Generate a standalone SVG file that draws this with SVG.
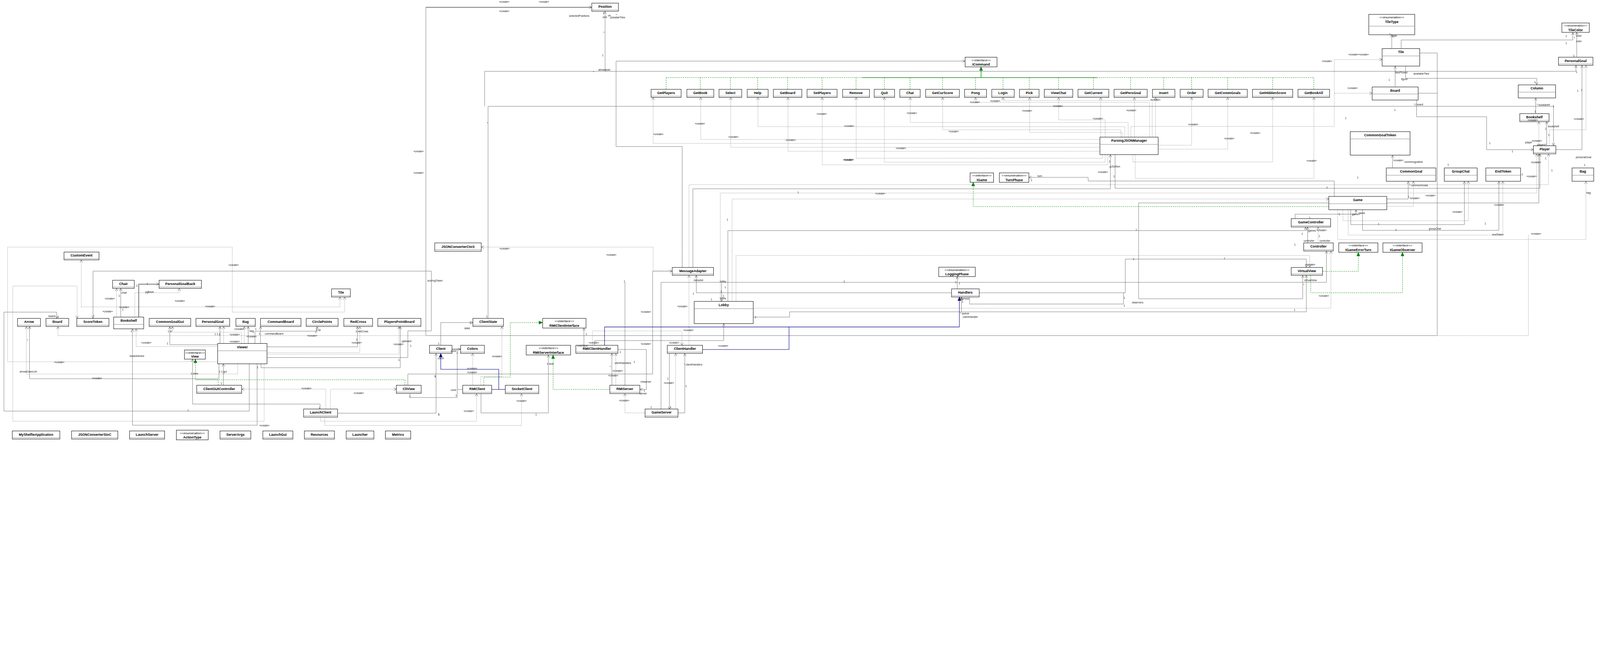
<svg xmlns="http://www.w3.org/2000/svg" width="6124" height="1685" viewBox="0 0 6124 1685" style="max-width:100%;height:auto;display:block">
<style>
#nodes rect{fill:#fff;stroke:#000;stroke-width:1.5}
#nodes line{stroke:#888;stroke-width:1.5}
text.n{font-family:'Liberation Sans',Arial,sans-serif;font-weight:bold;font-size:13px;text-anchor:middle;fill:#000}
text.st{font-family:'Liberation Sans',Arial,sans-serif;font-style:italic;font-size:12px;text-anchor:middle;fill:#000}
.a{fill:none;stroke:#666;stroke-width:1.3}
.a2{fill:none;stroke:#777;stroke-width:3}
.d{fill:none;stroke:#777;stroke-width:1.3;stroke-dasharray:3 3}
.r{fill:none;stroke:#009000;stroke-width:1.3;stroke-dasharray:5 3}
.r2{fill:none;stroke:#008000;stroke-width:2}
.g{fill:none;stroke:#000080;stroke-width:1.6}
#labels text{font-family:'Liberation Sans',Arial,sans-serif;font-size:10px;fill:#222;text-anchor:middle}
</style>
<defs>
<marker id="oa" markerUnits="userSpaceOnUse" markerWidth="12" markerHeight="12" viewBox="0 0 12 12" refX="11" refY="6" orient="auto"><path d="M1,1 L11,6 L1,11" fill="none" stroke="#555" stroke-width="1.3"/></marker>
<marker id="gt" markerUnits="userSpaceOnUse" markerWidth="16" markerHeight="14" viewBox="0 0 16 14" refX="15" refY="7" orient="auto"><path d="M1,1 L15,7 L1,13 Z" fill="#008000" stroke="#008000"/></marker>
<marker id="nt" markerUnits="userSpaceOnUse" markerWidth="16" markerHeight="14" viewBox="0 0 16 14" refX="15" refY="7" orient="auto"><path d="M1,1 L15,7 L1,13 Z" fill="#000080" stroke="#000080"/></marker>
</defs>
<rect x="0" y="0" width="6124" height="1685" fill="#fff"/>

<g id="connectors">
<g marker-end="url(#oa)">
<path class="a" d="M838,1393 V1450 H113 V1250"/>
<path class="a" d="M954,1393 V1574 H15 V1195 H217 V1219"/>
<path class="a" d="M1022,1369 H1561 V1267 H1651 V1038 H356 V1219"/>
<path class="a" d="M462,1214 V1104"/>
<path class="a2" d="M531,1214 V1088 H609"/>
<path class="a" d="M984,1393 V1628 H507 V1259"/>
<path class="a" d="M833,1320 H650 V1250"/>
<path class="a" d="M842,1315 V1250"/>
<path class="a" d="M950,1315 V1250"/>
<path class="a" d="M997,1315 V1250"/>
<path class="a" d="M976,1315 V1268 H1214 V1250"/>
<path class="a" d="M1022,1328 H1368 V1250"/>
<path class="a" d="M999,1393 V1408 H1532 V1250"/>
<path class="a" d="M1225,1566 V1547 H737 V1375"/>
<path class="a" d="M855,1475 V1393"/>
<path class="a" d="M1292,1582 H1669 V1353"/>
<path class="a" d="M1687,1322 V1235 H1810"/>
<path class="a2" d="M1730,1337 H1763"/>
<path class="a" d="M1841,1507 V1581 H2099 V1359"/>
<path class="a" d="M2235,1322 V1256"/>
<path class="a" d="M2342,1475 V1353"/>
<path class="a" d="M2365,1338 H2474 V1491 H2449"/>
<path class="a" d="M2595,1581 H2621 V1353"/>
<path class="a" d="M2562,1353 V1567"/>
<path class="a" d="M2530,1567 V1081 H5077 V961"/>
<path class="a" d="M2762,1081 V1154"/>
<path class="a" d="M3642,1121 H2665 V1054"/>
<path class="a" d="M3748,1121 H4307 V992 H5000 V1024"/>
<path class="a" d="M3664,1106 V1059"/>
<path class="a" d="M2883,1214 H3022 V1194 H5000 V1054"/>
<path class="a" d="M3680,1194 V1137"/>
<path class="a" d="M2786,1154 V883 H4997 V869"/>
<path class="a" d="M2276,1322 V1304 H2770 V1239"/>
<path class="a2" d="M1630,28 H2265"/>
<path class="a" d="M2316,273 V43"/>
<path class="a" d="M1855,407 V273 H6032 V250"/>
<path class="a" d="M1868,1219 V407 H5946 V558"/>
<path class="a" d="M2611,1024 V561 H2358 V234 H3694"/>
<path class="a" d="M2652,1024 V723 H4250 V592"/>
<path class="a" d="M4268,592 V721 H5894 V589"/>
<path class="a" d="M1561,1475 V1432 H2498 V1038 H2573"/>
<path class="a" d="M5327,186 V133"/>
<path class="a" d="M5363,186 V153 H6020 V124"/>
<path class="a" d="M6035,219 V124"/>
<path class="a" d="M5340,333 V253"/>
<path class="a" d="M5380,253 V300 H5882 V325"/>
<path class="a" d="M5878,435 V375"/>
<path class="a" d="M5920,558 V466"/>
<path class="a" d="M5955,573 H6055 V250"/>
<path class="a" d="M5422,383 V447 H5690 V573 H5869"/>
<path class="a" d="M5308,762 H5390 V694"/>
<path class="a" d="M5170,803 V860 H5605 V694"/>
<path class="a" d="M5215,803 V882 H5737 V694"/>
<path class="a" d="M4957,837 V820 H5190 V803"/>
<path class="a" d="M5005,930 V869"/>
<path class="a" d="M5308,777 H5890 V589"/>
<path class="a" d="M5086,777 H4358 V1144 H4986 V1054"/>
<path class="a" d="M5107,752 V693 H4165 V679 H3938"/>
<path class="a" d="M5330,643 V594"/>
</g>
<path class="a" d="M1569,1506 V1522 H1750 V1337"/>
<path class="a" d="M1771,1491 H1750"/>
<path class="a" d="M2392,1475 V1081"/>
<path class="a" d="M3711,1137 V1164 H4300 V1121"/>
<path class="a" d="M5501,1285 H1630 V28"/>
<path class="a" d="M5434,203 H5501 V1285"/>
<path class="a" d="M5428,357 H5501"/>

<g marker-end="url(#oa)">
<path class="d" d="M910,1393 V1432 H101 V1250"/>
<path class="d" d="M1626,1285 H222 V1250"/>
<path class="d" d="M833,1385 H29 V946 H889 V1195 H1319 V1137"/>
<path class="d" d="M311,1175 V995"/>
<path class="d" d="M311,1175 H1301 V1137"/>
<path class="d" d="M1011,1393 V1613 H49 V1095 H295 V1219"/>
<path class="d" d="M446,1214 V1104"/>
<path class="d" d="M516,1214 V1121 H686 V1104"/>
<path class="d" d="M833,1327 H521 V1259"/>
<path class="d" d="M925,1315 V1272 H660 V1250"/>
<path class="d" d="M935,1315 V1250"/>
<path class="d" d="M1022,1350 H1377 V1250"/>
<path class="d" d="M1022,1356 H1527 V1250"/>
<path class="d" d="M856,1315 V1250"/>
<path class="d" d="M1247,1566 V1490 H925"/>
<path class="d" d="M1265,1566 V1490 H1517"/>
<path class="d" d="M1227,1597 V1613 H1824 V1507"/>
<path class="d" d="M1243,1597 V1629 H1996 V1507"/>
<path class="d" d="M1809,1475 V1353"/>
<path class="d" d="M1840,1475 V1442 H1921 V1250"/>
<path class="d" d="M2357,1475 V1353"/>
<path class="d" d="M2469,1581 H2392 V1507"/>
<path class="d" d="M2586,1567 V1353"/>
<path class="d" d="M2637,1322 V1054"/>
<path class="d" d="M2268,1322 V1267 H2610 V1322"/>
<path class="d" d="M2573,1038 H2500 V946 H1842"/>
<path class="d" d="M2802,1154 V762 H5086"/>
<path class="d" d="M2757,1154 V739 H5882 V589"/>
<path class="d" d="M2637,1024 V707 H5927 V589"/>
<path class="d" d="M2817,1154 V978 H5013 V1024"/>
<path class="d" d="M2883,1180 H5094 V961"/>
<path class="d" d="M4328,525 V484 H5107 V228 H5290"/>
<path class="d" d="M5107,357 H5252"/>
<path class="d" d="M5120,803 V917 H6070 V694"/>
<path class="d" d="M5308,790 H5410 V694"/>
<path class="d" d="M5140,803 V845 H5620 V694"/>
<path class="d" d="M5160,803 V900 H5752 V694"/>
<path class="d" d="M5045,930 V869"/>
<path class="d" d="M5930,558 V497 H6070 V250"/>
<path class="d" d="M5890,558 V466"/>
<path class="d" d="M4210,549 H2500 V373"/>
<path class="d" d="M4210,534 H2682 V373"/>
<path class="d" d="M4210,564 H2797 V373"/>
<path class="d" d="M4305,525 V485 H2901 V373"/>
<path class="d" d="M4210,579 H3016 V373"/>
<path class="d" d="M4240,592 V631 H3147 V373"/>
<path class="d" d="M4220,592 V606 H3277 V373"/>
<path class="d" d="M4230,592 V621 H3385 V373"/>
<path class="d" d="M4318,525 V469 H3484 V373"/>
<path class="d" d="M4290,525 V497 H3608 V373"/>
<path class="d" d="M4400,525 V392 H3734 V373"/>
<path class="d" d="M4410,525 V385 H3839 V373"/>
<path class="d" d="M4295,525 V507 H3941 V373"/>
<path class="d" d="M4230,525 V459 H4052 V373"/>
<path class="d" d="M4213,525 V373"/>
<path class="d" d="M4342,525 V373"/>
<path class="d" d="M4423,525 V373"/>
<path class="d" d="M4433,556 H4561 V373"/>
<path class="d" d="M4433,571 H4699 V373"/>
<path class="d" d="M4336,592 V620 H4871 V373"/>
<path class="d" d="M4345,592 V683 H5029 V373"/>
</g>
<path class="d" d="M5850,900 V1285 H5502"/>

<path class="r" d="M2549.5,297 H5028.5"/>
<path class="r" d="M2549.5,342 V297 M2680.5,342 V297 M2795.5,342 V297 M2900,342 V297 M3014.5,342 V297 M3146.5,342 V297 M3276.5,342 V297 M3385,342 V297 M3483,342 V297 M3607.5,342 V297 M3734,342 V297 M3839,342 V297 M3939.5,342 V297 M4051.5,342 V297 M4185,342 V297 M4327.5,342 V297 M4454,342 V297 M4561,342 V297 M4699,342 V297 M4871,342 V297 M5028.5,342 V297"/>
<path class="r2" d="M3300,297 H4200"/>
<g marker-end="url(#gt)">
<path class="r2" d="M3755,297 V256"/>
<path class="r" d="M835,1475 V1454 H748 V1375"/>
<path class="r" d="M1852,1475 V1444 H1953 V1235 H2077"/>
<path class="r" d="M2334,1491 H2117 V1359"/>
<path class="r" d="M5086,791 H3725 V698"/>
<path class="r" d="M5062,1039 H5199 V966"/>
<path class="r" d="M5017,1054 V1121 H5368 V966"/>
</g>
<path class="r" d="M1550,1475 V1454 H748"/>
<g marker-end="url(#nt)">
<path class="g" d="M1882,1491 H1909 V1414 H1687 V1353"/>
<path class="g" d="M2314,1322 V1252 H3672 V1137"/>
</g>
<path class="g" d="M1934,1491 H1909"/>
<path class="g" d="M2689,1338 H3020 V1252"/>
</g>

<g id="nodes">
<g id="n-CustomEvent"><rect x="245" y="965" width="134" height="30"/><line x1="245" y1="990" x2="379" y2="990"/><text class="n" x="312" y="983">CustomEvent</text></g>
<g id="n-Chair"><rect x="431" y="1073" width="83" height="31"/><line x1="431" y1="1099" x2="514" y2="1099"/><text class="n" x="472.5" y="1091">Chair</text></g>
<g id="n-PersonalGoalBack"><rect x="609" y="1073" width="162" height="31"/><line x1="609" y1="1099" x2="771" y2="1099"/><text class="n" x="690" y="1091">PersonalGoalBack</text></g>
<g id="n-TileGui"><rect x="1269" y="1106" width="72" height="31"/><line x1="1269" y1="1132" x2="1341" y2="1132"/><text class="n" x="1305" y="1124">Tile</text></g>
<g id="n-Arrow"><rect x="67" y="1219" width="88" height="31"/><line x1="67" y1="1245" x2="155" y2="1245"/><text class="n" x="111" y="1237">Arrow</text></g>
<g id="n-BoardGui"><rect x="176" y="1219" width="87" height="31"/><line x1="176" y1="1245" x2="263" y2="1245"/><text class="n" x="219.5" y="1237">Board</text></g>
<g id="n-ScoreToken"><rect x="294" y="1219" width="123" height="31"/><line x1="294" y1="1245" x2="417" y2="1245"/><text class="n" x="355.5" y="1237">ScoreToken</text></g>
<g id="n-BookshelfGui"><rect x="435" y="1214" width="115" height="45"/><line x1="435" y1="1242" x2="550" y2="1242"/><text class="n" x="492.5" y="1232">Bookshelf</text></g>
<g id="n-CommonGoalGui"><rect x="571" y="1219" width="159" height="31"/><line x1="571" y1="1245" x2="730" y2="1245"/><text class="n" x="650.5" y="1237">CommonGoalGui</text></g>
<g id="n-PersonalGoalGui"><rect x="750" y="1219" width="129" height="31"/><line x1="750" y1="1245" x2="879" y2="1245"/><text class="n" x="814.5" y="1237">PersonalGoal</text></g>
<g id="n-BagGui"><rect x="903" y="1219" width="74" height="31"/><line x1="903" y1="1245" x2="977" y2="1245"/><text class="n" x="940" y="1237">Bag</text></g>
<g id="n-CommandBoard"><rect x="997" y="1219" width="155" height="31"/><line x1="997" y1="1245" x2="1152" y2="1245"/><text class="n" x="1074.5" y="1237">CommandBoard</text></g>
<g id="n-CirclePoints"><rect x="1172" y="1219" width="122" height="31"/><line x1="1172" y1="1245" x2="1294" y2="1245"/><text class="n" x="1233" y="1237">CirclePoints</text></g>
<g id="n-RedCross"><rect x="1316" y="1219" width="110" height="31"/><line x1="1316" y1="1245" x2="1426" y2="1245"/><text class="n" x="1371" y="1237">RedCross</text></g>
<g id="n-PlayersPointBoard"><rect x="1446" y="1219" width="165" height="31"/><line x1="1446" y1="1245" x2="1611" y2="1245"/><text class="n" x="1528.5" y="1237">PlayersPointBoard</text></g>
<g id="n-Viewer"><rect x="833" y="1315" width="189" height="78"/><line x1="833" y1="1343" x2="1022" y2="1343"/><text class="n" x="927.5" y="1333">Viewer</text></g>
<g id="n-View"><rect x="706" y="1340" width="80" height="35"/><text class="st" x="746" y="1354">&lt;&lt;interface&gt;&gt;</text><text class="n" x="746" y="1370">View</text></g>
<g id="n-ClientGUIController"><rect x="753" y="1475" width="172" height="31"/><line x1="753" y1="1501" x2="925" y2="1501"/><text class="n" x="839" y="1493">ClientGUIController</text></g>
<g id="n-CliView"><rect x="1517" y="1475" width="95" height="31"/><line x1="1517" y1="1501" x2="1612" y2="1501"/><text class="n" x="1564.5" y="1493">CliView</text></g>
<g id="n-LaunchClient"><rect x="1162" y="1566" width="130" height="31"/><line x1="1162" y1="1592" x2="1292" y2="1592"/><text class="n" x="1227" y="1584">LaunchClient</text></g>
<g id="n-MyShelfieApplication"><rect x="47" y="1650" width="182" height="31"/><line x1="47" y1="1676" x2="229" y2="1676"/><text class="n" x="138" y="1668">MyShelfieApplication</text></g>
<g id="n-JSONConverterStoC"><rect x="274" y="1650" width="177" height="31"/><line x1="274" y1="1676" x2="451" y2="1676"/><text class="n" x="362.5" y="1668">JSONConverterStoC</text></g>
<g id="n-LaunchServer"><rect x="496" y="1650" width="134" height="31"/><line x1="496" y1="1676" x2="630" y2="1676"/><text class="n" x="563" y="1668">LaunchServer</text></g>
<g id="n-ActionType"><rect x="675" y="1647" width="122" height="37"/><text class="st" x="736" y="1662">&lt;&lt;enumeration&gt;&gt;</text><text class="n" x="736" y="1679">ActionType</text></g>
<g id="n-ServerArgs"><rect x="842" y="1650" width="118" height="31"/><line x1="842" y1="1676" x2="960" y2="1676"/><text class="n" x="901" y="1668">ServerArgs</text></g>
<g id="n-LaunchGui"><rect x="1006" y="1650" width="115" height="31"/><line x1="1006" y1="1676" x2="1121" y2="1676"/><text class="n" x="1063.5" y="1668">LaunchGui</text></g>
<g id="n-Resources"><rect x="1165" y="1650" width="115" height="31"/><line x1="1165" y1="1676" x2="1280" y2="1676"/><text class="n" x="1222.5" y="1668">Resources</text></g>
<g id="n-Launcher"><rect x="1325" y="1650" width="106" height="31"/><line x1="1325" y1="1676" x2="1431" y2="1676"/><text class="n" x="1378" y="1668">Launcher</text></g>
<g id="n-Metrics"><rect x="1475" y="1650" width="97" height="31"/><line x1="1475" y1="1676" x2="1572" y2="1676"/><text class="n" x="1523.5" y="1668">Metrics</text></g>

<g id="n-JSONConverterCtoS"><rect x="1664" y="930" width="178" height="32"/><line x1="1664" y1="956" x2="1842" y2="956"/><text class="n" x="1753" y="949">JSONConverterCtoS</text></g>
<g id="n-Position"><rect x="2265" y="12" width="102" height="31"/><line x1="2265" y1="38" x2="2367" y2="38"/><text class="n" x="2316" y="30">Position</text></g>
<g id="n-ClientState"><rect x="1810" y="1219" width="117" height="31"/><line x1="1810" y1="1245" x2="1927" y2="1245"/><text class="n" x="1868.5" y="1237">ClientState</text></g>
<g id="n-RMIClientInterface"><rect x="2077" y="1219" width="166" height="37"/><text class="st" x="2160" y="1234">&lt;&lt;interface&gt;&gt;</text><text class="n" x="2160" y="1251">RMIClientInterface</text></g>
<g id="n-Client"><rect x="1644" y="1322" width="86" height="31"/><line x1="1644" y1="1348" x2="1730" y2="1348"/><text class="n" x="1687" y="1340">Client</text></g>
<g id="n-Colors"><rect x="1763" y="1322" width="91" height="31"/><line x1="1763" y1="1348" x2="1854" y2="1348"/><text class="n" x="1808.5" y="1340">Colors</text></g>
<g id="n-RMIServerInterface"><rect x="2014" y="1322" width="170" height="37"/><text class="st" x="2099" y="1337">&lt;&lt;interface&gt;&gt;</text><text class="n" x="2099" y="1354">RMIServerInterface</text></g>
<g id="n-RMIClientHandler"><rect x="2204" y="1322" width="161" height="31"/><line x1="2204" y1="1348" x2="2365" y2="1348"/><text class="n" x="2284.5" y="1340">RMIClientHandler</text></g>
<g id="n-ClientHandler"><rect x="2554" y="1322" width="135" height="31"/><line x1="2554" y1="1348" x2="2689" y2="1348"/><text class="n" x="2621.5" y="1340">ClientHandler</text></g>
<g id="n-RMIClient"><rect x="1771" y="1475" width="111" height="32"/><line x1="1771" y1="1502" x2="1882" y2="1502"/><text class="n" x="1826.5" y="1494">RMIClient</text></g>
<g id="n-SocketClient"><rect x="1934" y="1475" width="128" height="32"/><line x1="1934" y1="1502" x2="2062" y2="1502"/><text class="n" x="1998" y="1494">SocketClient</text></g>
<g id="n-RMIServer"><rect x="2334" y="1475" width="115" height="32"/><line x1="2334" y1="1502" x2="2449" y2="1502"/><text class="n" x="2391.5" y="1494">RMIServer</text></g>
<g id="n-GameServer"><rect x="2469" y="1566" width="126" height="31"/><line x1="2469" y1="1592" x2="2595" y2="1592"/><text class="n" x="2532" y="1584">GameServer</text></g>
<g id="n-MessageAdapter"><rect x="2573" y="1024" width="158" height="30"/><line x1="2573" y1="1049" x2="2731" y2="1049"/><text class="n" x="2652" y="1042">MessageAdapter</text></g>
<g id="n-Lobby"><rect x="2657" y="1154" width="226" height="85"/><line x1="2657" y1="1182" x2="2883" y2="1182"/><text class="n" x="2770" y="1172">Lobby</text></g>

<g id="n-IGame"><rect x="3713" y="662" width="90" height="36"/><text class="st" x="3758" y="676">&lt;&lt;interface&gt;&gt;</text><text class="n" x="3758" y="693">IGame</text></g>
<g id="n-TurnPhase"><rect x="3825" y="662" width="113" height="36"/><text class="st" x="3881.5" y="676">&lt;&lt;enumeration&gt;&gt;</text><text class="n" x="3881.5" y="693">TurnPhase</text></g>
<g id="n-LoggingPhase"><rect x="3593" y="1023" width="140" height="36"/><text class="st" x="3663" y="1037">&lt;&lt;enumeration&gt;&gt;</text><text class="n" x="3663" y="1054">LoggingPhase</text></g>
<g id="n-Handlers"><rect x="3642" y="1106" width="106" height="31"/><line x1="3642" y1="1132" x2="3748" y2="1132"/><text class="n" x="3695" y="1124">Handlers</text></g>
<g id="n-ICommand"><rect x="3694" y="219" width="122" height="37"/><text class="st" x="3755" y="234">&lt;&lt;interface&gt;&gt;</text><text class="n" x="3755" y="251">ICommand</text></g>

<g id="n-GetPlayers"><rect x="2492" y="342" width="115" height="31"/><line x1="2492" y1="368" x2="2607" y2="368"/><text class="n" x="2549.5" y="360">GetPlayers</text></g>
<g id="n-GetBook"><rect x="2629" y="342" width="103" height="31"/><line x1="2629" y1="368" x2="2732" y2="368"/><text class="n" x="2680.5" y="360">GetBook</text></g>
<g id="n-Select"><rect x="2752" y="342" width="87" height="31"/><line x1="2752" y1="368" x2="2839" y2="368"/><text class="n" x="2795.5" y="360">Select</text></g>
<g id="n-Help"><rect x="2860" y="342" width="80" height="31"/><line x1="2860" y1="368" x2="2940" y2="368"/><text class="n" x="2900" y="360">Help</text></g>
<g id="n-GetBoard"><rect x="2960" y="342" width="109" height="31"/><line x1="2960" y1="368" x2="3069" y2="368"/><text class="n" x="3014.5" y="360">GetBoard</text></g>
<g id="n-SetPlayers"><rect x="3089" y="342" width="115" height="31"/><line x1="3089" y1="368" x2="3204" y2="368"/><text class="n" x="3146.5" y="360">SetPlayers</text></g>
<g id="n-Remove"><rect x="3225" y="342" width="103" height="31"/><line x1="3225" y1="368" x2="3328" y2="368"/><text class="n" x="3276.5" y="360">Remove</text></g>
<g id="n-Quit"><rect x="3346" y="342" width="78" height="31"/><line x1="3346" y1="368" x2="3424" y2="368"/><text class="n" x="3385" y="360">Quit</text></g>
<g id="n-Chat"><rect x="3444" y="342" width="78" height="31"/><line x1="3444" y1="368" x2="3522" y2="368"/><text class="n" x="3483" y="360">Chat</text></g>
<g id="n-GetCurScore"><rect x="3543" y="342" width="129" height="31"/><line x1="3543" y1="368" x2="3672" y2="368"/><text class="n" x="3607.5" y="360">GetCurScore</text></g>
<g id="n-Pong"><rect x="3692" y="342" width="84" height="31"/><line x1="3692" y1="368" x2="3776" y2="368"/><text class="n" x="3734" y="360">Pong</text></g>
<g id="n-Login"><rect x="3796" y="342" width="86" height="31"/><line x1="3796" y1="368" x2="3882" y2="368"/><text class="n" x="3839" y="360">Login</text></g>
<g id="n-Pick"><rect x="3902" y="342" width="75" height="31"/><line x1="3902" y1="368" x2="3977" y2="368"/><text class="n" x="3939.5" y="360">Pick</text></g>
<g id="n-ViewChat"><rect x="3997" y="342" width="109" height="31"/><line x1="3997" y1="368" x2="4106" y2="368"/><text class="n" x="4051.5" y="360">ViewChat</text></g>
<g id="n-GetCurrent"><rect x="4126" y="342" width="118" height="31"/><line x1="4126" y1="368" x2="4244" y2="368"/><text class="n" x="4185" y="360">GetCurrent</text></g>
<g id="n-GetPersGoal"><rect x="4264" y="342" width="127" height="31"/><line x1="4264" y1="368" x2="4391" y2="368"/><text class="n" x="4327.5" y="360">GetPersGoal</text></g>
<g id="n-Insert"><rect x="4411" y="342" width="86" height="31"/><line x1="4411" y1="368" x2="4497" y2="368"/><text class="n" x="4454" y="360">Insert</text></g>
<g id="n-Order"><rect x="4517" y="342" width="88" height="31"/><line x1="4517" y1="368" x2="4605" y2="368"/><text class="n" x="4561" y="360">Order</text></g>
<g id="n-GetCommGoals"><rect x="4624" y="342" width="150" height="31"/><line x1="4624" y1="368" x2="4774" y2="368"/><text class="n" x="4699" y="360">GetCommGoals</text></g>
<g id="n-GetHiddenScore"><rect x="4794" y="342" width="154" height="31"/><line x1="4794" y1="368" x2="4948" y2="368"/><text class="n" x="4871" y="360">GetHiddenScore</text></g>
<g id="n-GetBookAll"><rect x="4968" y="342" width="121" height="31"/><line x1="4968" y1="368" x2="5089" y2="368"/><text class="n" x="5028.5" y="360">GetBookAll</text></g>
<g id="n-ParsingJSONManager"><rect x="4210" y="525" width="223" height="67"/><line x1="4210" y1="553" x2="4433" y2="553"/><text class="n" x="4321.5" y="543">ParsingJSONManager</text></g>

<g id="n-TileType"><rect x="5239" y="55" width="176" height="78"/><line x1="5239" y1="100" x2="5415" y2="100"/><text class="st" x="5327" y="70">&lt;&lt;enumeration&gt;&gt;</text><text class="n" x="5327" y="88">TileType</text></g>
<g id="n-TileColor"><rect x="5978" y="88" width="105" height="36"/><text class="st" x="6030.5" y="102" style="font-size:11px">&lt;&lt;enumeration&gt;&gt;</text><text class="n" x="6030.5" y="119">TileColor</text></g>
<g id="n-Tile"><rect x="5290" y="186" width="144" height="67"/><line x1="5290" y1="214" x2="5434" y2="214"/><text class="n" x="5362" y="204">Tile</text></g>
<g id="n-PersonalGoal"><rect x="5965" y="219" width="132" height="31"/><line x1="5965" y1="245" x2="6097" y2="245"/><text class="n" x="6031" y="237">PersonalGoal</text></g>
<g id="n-Board"><rect x="5252" y="333" width="176" height="50"/><line x1="5252" y1="360" x2="5428" y2="360"/><text class="n" x="5340" y="351">Board</text></g>
<g id="n-Column"><rect x="5811" y="325" width="143" height="50"/><line x1="5811" y1="353" x2="5954" y2="353"/><text class="n" x="5882.5" y="343">Column</text></g>
<g id="n-Bookshelf"><rect x="5817" y="435" width="112" height="31"/><line x1="5817" y1="461" x2="5929" y2="461"/><text class="n" x="5873" y="453">Bookshelf</text></g>
<g id="n-CommonGoalToken"><rect x="5168" y="504" width="229" height="90"/><line x1="5168" y1="532" x2="5397" y2="532"/><text class="n" x="5282.5" y="522">CommonGoalToken</text></g>
<g id="n-Player"><rect x="5869" y="558" width="86" height="31"/><line x1="5869" y1="584" x2="5955" y2="584"/><text class="n" x="5912" y="576">Player</text></g>
<g id="n-CommonGoal"><rect x="5306" y="643" width="190" height="51"/><line x1="5306" y1="671" x2="5496" y2="671"/><text class="n" x="5401" y="661">CommonGoal</text></g>
<g id="n-GroupChat"><rect x="5528" y="643" width="126" height="51"/><line x1="5528" y1="671" x2="5654" y2="671"/><text class="n" x="5591" y="661">GroupChat</text></g>
<g id="n-EndToken"><rect x="5687" y="643" width="133" height="51"/><line x1="5687" y1="671" x2="5820" y2="671"/><text class="n" x="5753.5" y="661">EndToken</text></g>
<g id="n-Bag"><rect x="6017" y="643" width="83" height="51"/><line x1="6017" y1="671" x2="6100" y2="671"/><text class="n" x="6058.5" y="661">Bag</text></g>
<g id="n-Game"><rect x="5086" y="752" width="222" height="51"/><line x1="5086" y1="780" x2="5308" y2="780"/><text class="n" x="5197" y="770">Game</text></g>
<g id="n-GameController"><rect x="4942" y="837" width="151" height="32"/><line x1="4942" y1="864" x2="5093" y2="864"/><text class="n" x="5017.5" y="855">GameController</text></g>
<g id="n-Controller"><rect x="4990" y="930" width="113" height="31"/><line x1="4990" y1="956" x2="5103" y2="956"/><text class="n" x="5046.5" y="948">Controller</text></g>
<g id="n-IGameErrorTurn"><rect x="5124" y="930" width="150" height="36"/><text class="st" x="5199" y="944">&lt;&lt;interface&gt;&gt;</text><text class="n" x="5199" y="961">IGameErrorTurn</text></g>
<g id="n-IGameObserver"><rect x="5293" y="930" width="150" height="36"/><text class="st" x="5368" y="944">&lt;&lt;interface&gt;&gt;</text><text class="n" x="5368" y="961">IGameObserver</text></g>
<g id="n-VirtualView"><rect x="4942" y="1024" width="120" height="30"/><line x1="4942" y1="1049" x2="5062" y2="1049"/><text class="n" x="5002" y="1042">VirtualView</text></g>
</g>

<g id="labels">
<text x="1665" y="1078">scoringToken</text>
<text x="564" y="1090">1</text><text x="524" y="1097">1</text>
<text x="572" y="1121">pgBack</text>
<text x="475" y="1125">chair</text><text x="456" y="1136">1</text>
<text x="420" y="1147">«create»</text>
<text x="688" y="1155">«create»</text>
<text x="804" y="1176">«create»</text>
<text x="475" y="1180">«create»</text><text x="470" y="1189">1</text>
<text x="412" y="1196">«create»</text>
<text x="198" y="1214">board</text><text x="223" y="1217">1</text>
<text x="358" y="1213">*</text>
<text x="650" y="1272">1 cf</text>
<text x="916" y="1264">«create»</text>
<text x="979" y="1263">1</text><text x="963" y="1271">bag</text>
<text x="832" y="1283">1 1 p</text>
<text x="898" y="1284">«create»</text>
<text x="963" y="1292">«create»</text>
<text x="1049" y="1282">commandBoard</text><text x="993" y="1282">1</text>
<text x="1218" y="1267">1 cp</text><text x="1209" y="1275">1</text>
<text x="1385" y="1272">1 redCross</text>
<text x="1195" y="1289">«create»</text>
<text x="560" y="1316">«create»</text>
<text x="641" y="1318">1</text>
<text x="898" y="1311">«create»</text>
<text x="1365" y="1304">1</text><text x="1365" y="1315">«create»</text>
<text x="1556" y="1310">ppboard</text><text x="1525" y="1322">«create»</text><text x="1572" y="1328">1</text>
<text x="1679" y="1318">1</text>
<text x="105" y="1307">*</text>
<text x="524" y="1366">bookshelves</text><text x="502" y="1275">*</text>
<text x="1527" y="1382">1</text>
<text x="227" y="1390">«create»</text>
<text x="108" y="1427">arrowDownList</text>
<text x="744" y="1434">1 view</text>
<text x="853" y="1427">1 1 gui</text>
<text x="371" y="1452">«create»</text>
<text x="847" y="1471">1</text>
<text x="1665" y="1444">1</text>
<text x="1173" y="1491">«create»</text>
<text x="1373" y="1509">«create»</text>
<text x="1569" y="1522">1</text>
<text x="986" y="1410">1</text>
<text x="720" y="1574">1</text>
<text x="1223" y="1565">1</text>
<text x="1679" y="1590">1</text>
<text x="1012" y="1632">«create»</text>

<text x="2390" y="1081">1</text>
<text x="2673" y="1077">messAd</text>
<text x="2767" y="1081">lobby</text>
<text x="2776" y="1104">1</text><text x="2761" y="1120">1</text><text x="2654" y="1128">1</text>
<text x="2769" y="1136">1</text><text x="2767" y="1146">lobby</text><text x="2723" y="1150">1</text>
<text x="2612" y="1177">«create»</text>
<text x="2472" y="1198">«create»</text>
<text x="1863" y="1216">1</text>
<text x="1800" y="1239">1</text>
<text x="1788" y="1260">state</text>
<text x="2892" y="1218">1</text>
<text x="2635" y="1268">«create»</text>
<text x="2244" y="1283">1</text>
<text x="2472" y="1320">«create»</text>
<text x="2229" y="1327">rmiClient</text>
<text x="2273" y="1316">«create»</text>
<text x="2580" y="1316">«create»</text>
<text x="2768" y="1328">«create»</text>
<text x="1736" y="1347">color</text><text x="1750" y="1355">1</text>
<text x="2374" y="1352">1</text>
<text x="1902" y="1368">«create»</text>
<text x="1687" y="1375">client</text>
<text x="2384" y="1393">clientHandlers</text><text x="2428" y="1389">1</text>
<text x="2106" y="1396">1 stub</text>
<text x="2653" y="1400">* clientHandlers</text>
<text x="2336" y="1408">*</text>
<text x="2364" y="1423">«create»</text>
<text x="1807" y="1415">«create»</text><text x="1807" y="1429">«create»</text>
<text x="2347" y="1441">«create»</text>
<text x="1666" y="1444">1</text>
<text x="2556" y="1453">1</text>
<text x="2560" y="1469">«create»</text>
<text x="2472" y="1465">rmiserver</text>
<text x="2626" y="1482">1</text>
<text x="1736" y="1497">color</text>
<text x="2466" y="1499">1</text><text x="2462" y="1510">server</text>
<text x="1746" y="1517">1</text>
<text x="1996" y="1539">«create»</text>
<text x="2389" y="1537">«create»</text>
<text x="2492" y="1562">1</text><text x="2567" y="1562">1</text>
<text x="1794" y="1578">«create»</text>
<text x="1680" y="1591">1</text><text x="2052" y="1591">1</text>

<text x="1930" y="11">«create»</text>
<text x="2082" y="11">«create»</text>
<text x="1930" y="46">«create»</text>
<text x="2217" y="64">selectedPositions</text>
<text x="2310" y="54">1</text><text x="2315" y="69">pos</text><text x="2332" y="63">os</text><text x="2364" y="71">pickableTiles</text><text x="2359" y="62">*</text>
<text x="2311" y="129">*</text>
<text x="2307" y="215">1</text>
<text x="2313" y="270">alreadysel</text><text x="2271" y="280">*</text>
<text x="1602" y="583">«create»</text>
<text x="1602" y="665">«create»</text>
<text x="894" y="1018">«create»</text>
<text x="1931" y="955">«create»</text>
<text x="2340" y="979">«create»</text>
<text x="1866" y="476">*</text>

<text x="3731" y="395">«create»</text>
<text x="3809" y="390">«create»</text>
<text x="4049" y="409">«create»</text>
<text x="3931" y="427">«create»</text>
<text x="3145" y="440">«create»</text>
<text x="3490" y="437">«create»</text>
<text x="2679" y="477">«create»</text>
<text x="3250" y="486">«create»</text>
<text x="3650" y="507">«create»</text>
<text x="2520" y="517">«create»</text>
<text x="2807" y="528">«create»</text>
<text x="3026" y="540">«create»</text>
<text x="3448" y="571">«create»</text>
<text x="3247" y="616">«create»</text>
<text x="4422" y="385">«create»</text>
<text x="4330" y="426">«create»</text>
<text x="4202" y="458">«create»</text>
<text x="4567" y="480">«create»</text>
<text x="4804" y="513">«create»</text>
<text x="4705" y="534">«create»</text>
<text x="4267" y="642">pJSONm</text><text x="4247" y="622">1</text>
<text x="4221" y="662">«create»</text>

<text x="5320" y="134">1</text><text x="5337" y="141">type</text>
<text x="5995" y="142">1</text><text x="6043" y="141">color</text><text x="6026" y="150">*</text><text x="6043" y="161">color</text><text x="5995" y="169">1</text>
<text x="5200" y="212">«create»«create»</text>
<text x="5079" y="237">«create»</text>
<text x="6024" y="217">1</text>
<text x="6034" y="279">1</text>
<text x="5363" y="281">tilesPicked</text><text x="5440" y="286">availableTiles</text>
<text x="5375" y="307">figure</text><text x="5317" y="309">1</text>
<text x="5875" y="318">1</text>
<text x="5177" y="341">«create»</text>
<text x="6039" y="352">1</text><text x="6054" y="349">1</text>
<text x="5430" y="404">1 board</text>
<text x="5907" y="405">* bookshelf</text>
<text x="5946" y="409">1</text>
<text x="5339" y="425">1</text>
<text x="5876" y="431">1</text>
<text x="5866" y="463">«create»</text>
<text x="5151" y="456">1</text>
<text x="6043" y="459">«create»</text>
<text x="5946" y="487">bookshelf</text><text x="5916" y="496">1</text>
<text x="5928" y="521">1</text>
<text x="5702" y="551">1</text>
<text x="5851" y="549">player</text><text x="5882" y="543">«create»</text><text x="5901" y="557">players*</text>
<text x="5789" y="583">1</text>
<text x="6061" y="606">personalGoal</text>
<text x="5916" y="610">1</text>
<text x="5352" y="618">«create»</text><text x="5410" y="624">commongoaltok</text>
<text x="5879" y="625">«create»</text>
<text x="5020" y="619">«create»</text>
<text x="5543" y="634">1</text>
<text x="5940" y="657">1</text>
<text x="6065" y="636">1</text>

<text x="4264" y="679">1</text>
<text x="5197" y="684">1</text>
<text x="5825" y="671">-1</text>
<text x="5862" y="679">«create»</text>
<text x="5430" y="713">* commonGoals</text>
<text x="5079" y="721">1</text>
<text x="5391" y="756">1</text><text x="5414" y="762">«create»</text><text x="5475" y="752">«create»</text>
<text x="5738" y="788">«create»</text>
<text x="5578" y="815">«create»</text>
<text x="5126" y="824">1</text><text x="5187" y="824">game</text><text x="5212" y="820">game</text>
<text x="5013" y="837">1</text>
<text x="5277" y="861">1</text><text x="5685" y="860">1</text>
<text x="4349" y="883">1</text>
<text x="5018" y="887">* games</text><text x="5058" y="885">«create»</text>
<text x="5492" y="879">groupChat</text>
<text x="5343" y="884">1</text>
<text x="4984" y="898">1</text><text x="5050" y="908">1</text>
<text x="5733" y="901">endToken</text>
<text x="6080" y="741">bag</text>
<text x="5879" y="899">«create»</text>
<text x="5010" y="926">controller</text><text x="5071" y="926">controller</text>
<text x="4956" y="940">1</text>
<text x="4339" y="996">1</text><text x="4687" y="993">1</text>
<text x="5015" y="1016">«create»</text>
<text x="5016" y="1077">virtualView</text><text x="4990" y="1094">*</text>
<text x="5067" y="1137">«create»</text>
<text x="4304" y="1144">1</text><text x="4354" y="1162">observers</text><text x="4303" y="1173">1</text>
<text x="4955" y="1190">1</text>

<text x="3248" y="614">«create»</text>
<text x="3980" y="677">turn</text><text x="3948" y="694">1</text>
<text x="3055" y="740">1</text><text x="3369" y="745">«create»</text>
<text x="2784" y="844">1</text>
<text x="3231" y="1081">1</text>
<text x="3658" y="1084">1</text><text x="3672" y="1088">1</text>
<text x="3690" y="1147">logphase</text>
<text x="3684" y="1159">1</text>
<text x="3692" y="1203">* queue</text>
<text x="3714" y="1217">clientHandler</text>
</g>
</svg>
